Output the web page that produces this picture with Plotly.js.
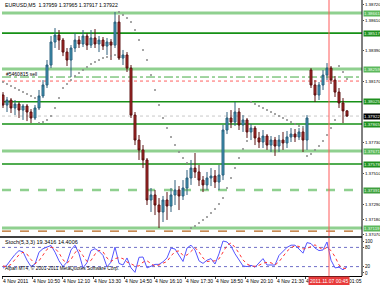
<!DOCTYPE html>
<html><head><meta charset="utf-8">
<script src="https://cdn.plot.ly/plotly-3.0.1.min.js"></script>
<style>html,body{margin:0;padding:0;background:#fff}#c{width:380px;height:285px}</style>
</head><body><div id="c"></div>
<script>
const symbol = 'EURUSD,M5';
const openP  = [1.38073,1.38001,1.38037,1.37980,1.38008,1.37965,1.37994,1.37951,1.37908,1.37980,1.38066,1.38145,1.38288,1.38453,1.38503,1.38467,1.38381,1.38324,1.38410,1.38467,1.38439,1.38496,1.38431,1.38482,1.38439,1.38467,1.38424,1.38453,1.38431,1.38596,1.38338,1.38360,1.38266,1.37929,1.37750,1.37679,1.37607,1.37320,1.37356,1.37284,1.37234,1.37320,1.37277,1.37356,1.37392,1.37349,1.37406,1.37478,1.37549,1.37521,1.37463,1.37428,1.37478,1.37492,1.37449,1.37499,1.37822,1.37908,1.37879,1.37951,1.37858,1.37894,1.37808,1.37836,1.37765,1.37736,1.37779,1.37714,1.37750,1.37707,1.37750,1.37729,1.37772,1.37793,1.37772,1.37808,1.37750,1.38252,1.38145,1.38073,1.38145,1.38216,1.38266,1.38180,1.38094,1.38016,1.37959];
const highP  = [1.38094,1.38059,1.38051,1.38037,1.38023,1.38008,1.38008,1.37972,1.38001,1.38109,1.38180,1.38324,1.38496,1.38553,1.38539,1.38482,1.38410,1.38431,1.38517,1.38496,1.38539,1.38517,1.38539,1.38546,1.38496,1.38489,1.38482,1.38474,1.38668,1.38646,1.38396,1.38381,1.38288,1.37951,1.37786,1.37714,1.37621,1.37406,1.37392,1.37334,1.37349,1.37377,1.37406,1.37463,1.37420,1.37463,1.37535,1.37607,1.37657,1.37571,1.37492,1.37521,1.37549,1.37535,1.37571,1.37858,1.37951,1.37965,1.38023,1.37980,1.37929,1.37908,1.37865,1.37851,1.37808,1.37822,1.37793,1.37779,1.37772,1.37786,1.37808,1.37815,1.37836,1.37829,1.37836,1.37836,1.37929,1.38266,1.38180,1.38166,1.38252,1.38302,1.38281,1.38209,1.38123,1.38051,1.37965];
const lowP   = [1.37980,1.37951,1.37944,1.37929,1.37908,1.37894,1.37886,1.37872,1.37894,1.37965,1.38051,1.38123,1.38266,1.38410,1.38396,1.38352,1.38281,1.38202,1.38381,1.38410,1.38417,1.38396,1.38410,1.38410,1.38381,1.38396,1.38360,1.38324,1.38410,1.38324,1.38288,1.38238,1.37908,1.37714,1.37607,1.37549,1.37284,1.37234,1.37212,1.37119,1.37162,1.37177,1.37234,1.37284,1.37248,1.37320,1.37356,1.37428,1.37478,1.37420,1.37377,1.37392,1.37420,1.37406,1.37392,1.37463,1.37793,1.37836,1.37851,1.37822,1.37808,1.37765,1.37750,1.37714,1.37693,1.37693,1.37679,1.37664,1.37636,1.37664,1.37679,1.37693,1.37736,1.37736,1.37750,1.37664,1.37679,1.38123,1.38023,1.38037,1.38109,1.38180,1.38152,1.38059,1.37980,1.37872,1.37917];
const closeP = [1.38001,1.38037,1.37980,1.38008,1.37965,1.37994,1.37951,1.37908,1.37980,1.38066,1.38145,1.38288,1.38453,1.38503,1.38467,1.38381,1.38324,1.38410,1.38467,1.38439,1.38496,1.38431,1.38482,1.38439,1.38467,1.38424,1.38453,1.38431,1.38596,1.38338,1.38360,1.38266,1.37929,1.37750,1.37679,1.37607,1.37320,1.37356,1.37284,1.37234,1.37320,1.37277,1.37356,1.37392,1.37349,1.37406,1.37478,1.37549,1.37521,1.37463,1.37428,1.37478,1.37492,1.37449,1.37499,1.37822,1.37908,1.37879,1.37951,1.37858,1.37894,1.37808,1.37836,1.37765,1.37736,1.37779,1.37714,1.37750,1.37707,1.37750,1.37729,1.37772,1.37793,1.37772,1.37808,1.37750,1.37908,1.38145,1.38073,1.38145,1.38216,1.38266,1.38180,1.38094,1.38016,1.37959,1.37922];
const sarP   = [1.38166,1.38152,1.38137,1.38123,1.38109,1.38094,1.38080,1.38066,1.38051,1.37872,1.37879,1.37894,1.37922,1.37980,1.38051,1.38123,1.38152,1.38180,1.38209,1.38231,1.38252,1.38274,1.38295,1.38310,1.38324,1.38338,1.38345,1.38352,1.38360,1.38668,1.38646,1.38625,1.38596,1.38539,1.38467,1.38396,1.38324,1.38216,1.38109,1.38001,1.37908,1.37836,1.37772,1.37714,1.37664,1.37621,1.37585,1.37119,1.37134,1.37155,1.37177,1.37198,1.37227,1.37256,1.37291,1.37334,1.37406,1.37478,1.37549,1.37621,1.37686,1.37743,1.38023,1.38008,1.37994,1.37980,1.37965,1.37951,1.37937,1.37922,1.37908,1.37894,1.37879,1.37865,1.37851,1.37843,1.37636,1.37650,1.37679,1.37707,1.37743,1.37786,1.37836,1.37894,1.38281,1.38238,1.38188];
const stochMain   = [15,25,42,58,70,66,40,20,28,65,76,81,86,65,38,20,34,72,87,60,16,32,70,76,68,55,19,34,81,30,25,47,16,2,49,50,16,21,27,27,35,47,78,75,55,36,78,87,72,38,30,40,45,28,60,100,97,84,60,42,22,20,24,18,30,45,25,25,25,55,69,80,87,87,75,62,95,92,78,70,72,97,40,16,18,10,19.3416];
const stochSignal = [22,20,27,42,57,65,59,42,29,38,56,74,81,77,63,41,31,42,64,73,54,36,39,59,71,66,47,36,45,48,45,34,29,22,22,34,38,29,21,25,30,36,53,67,69,55,56,67,79,66,47,36,38,38,44,63,86,94,80,62,41,28,22,21,24,31,33,32,25,35,50,68,79,85,83,75,77,83,88,80,73,80,70,51,25,15,14.4006];
const stochLevels = [80, 20];
const stochTicks = [100, 80, 20, 0];
const priceTicks = [1.38720,1.38610,1.38500,1.38390,1.38280,1.38170,1.38060,1.37950,1.37840,1.37730,1.37620,1.37510,1.37400,1.37290,1.37180,1.37070];
const timeTickIdx = [-0.25,7.25,14.75,22.5,30.25,37.75,45.5,53,60.5,68.25,75.5,86.25];
const timeTickText = ['4 Nov 2011','4 Nov 10:50','4 Nov 12:10','4 Nov 13:30','4 Nov 14:50','4 Nov 16:10','4 Nov 17:30','4 Nov 18:50','4 Nov 20:10','4 Nov 21:30','4 Nov 22:50','01:05'];
const levelsSolid = [1.38517,1.38025,1.37865,1.37578];
const levelsLight = [1.38661,1.38259,1.37671,1.37119];
const levelsLightDash = [1.37391];
const brownLevel = [1.37097];
const orderOpen = [1.38202];
const orderStop = [1.38173];
const orderText = '#5460815 sell';
const vlineIdx = [81.5];
const vlineText = '2011.11.07 00:45';
const copyright = 'Alpari MT4, \u00a9 2001-2011 MetaQuotes Software Corp.';

const idx = closeP.map((_, i) => i);
const F = 'Liberation Sans, Arial, sans-serif';
const X0 = 2/380, X1 = 362/380;
const py = p => 1 - p/285;
const last = closeP.length - 1;
const labelled = levelsSolid.concat(levelsLight, levelsLightDash, [closeP[last]]);
const shownTicks = priceTicks.filter(t => labelled.every(l => Math.abs(l - t) > 0.00045));

const traces = [
  {type:'candlestick', x:idx, open:openP, high:highP, low:lowP, close:closeP, xaxis:'x', yaxis:'y',
   increasing:{line:{color:'#2c5f7c',width:1}, fillcolor:'#3b9bbb'},
   decreasing:{line:{color:'#5a1010',width:1}, fillcolor:'#b52a2a'},
   whiskerwidth:0, hoverinfo:'skip'},
  {type:'scatter', mode:'markers', x:idx, y:sarP, xaxis:'x', yaxis:'y',
   marker:{size:2, color:'#888'}, hoverinfo:'skip'},
  {type:'scatter', mode:'lines', x:idx, y:stochMain, xaxis:'x', yaxis:'y2',
   line:{color:'#5555ff', width:1}, hoverinfo:'skip'},
  {type:'scatter', mode:'lines', x:idx, y:stochSignal, xaxis:'x', yaxis:'y2',
   line:{color:'#ff3333', width:1, dash:'dot'}, hoverinfo:'skip'}
];

const shapes = [];
const hline = (p, color, width, dash) => shapes.push({type:'line', xref:'paper', x0:X0, x1:X1, yref:'y', y0:p, y1:p, line:{color, width, dash}, layer:'below'});
levelsLight.forEach(p => hline(p, '#8fd08f', 3, 'solid'));
levelsLightDash.forEach(p => hline(p, '#8fd08f', 2.5, 'dash'));
levelsSolid.forEach(p => hline(p, '#169016', 1.6, 'solid'));
brownLevel.forEach(p => hline(p, '#b5651d', 1.4, 'dash'));
orderOpen.forEach(p => hline(p, '#44aa44', 1, 'dashdot'));
orderStop.forEach(p => hline(p, '#ff6060', 1, 'dot'));
hline(closeP[last], '#c8c8c8', 1, 'dot');
stochLevels.forEach(v => shapes.push({type:'line', xref:'paper', x0:X0, x1:X1, yref:'y2', y0:v, y1:v, line:{color:'#7070c8', width:1, dash:'dot'}, layer:'below'}));
vlineIdx.forEach(v => shapes.push({type:'line', xref:'x', x0:v, x1:v, yref:'paper', y0:py(276), y1:1, line:{color:'#ff5a5a', width:1}}));
shapes.push({type:'line', xref:'paper', x0:0, x1:X1, yref:'paper', y0:py(237), y1:py(237), line:{color:'#404040', width:2}});
shapes.push({type:'line', xref:'paper', x0:X1, x1:X1, yref:'paper', y0:py(276), y1:1, line:{color:'#000', width:1}});

const annotations = [];
const txt = (x, y, text, size) => annotations.push({xref:'paper', yref:'paper', x:x/380, y:py(y), text, showarrow:false, xanchor:'left', yanchor:'middle', font:{family:F, size:size, color:'#000'}});
txt(3, 5, `${symbol}  ${openP[last].toFixed(5)} ${highP[last].toFixed(5)} ${lowP[last].toFixed(5)} ${closeP[last].toFixed(5)}`, 5.2);
txt(4, 74, orderText, 5);
txt(3, 242, `Stoch(5,3,3) ${stochMain[last].toFixed(4)} ${stochSignal[last].toFixed(4)}`, 5.5);
txt(3, 268, copyright, 4.8);
const plabel = (p, bg, fg) => annotations.push({xref:'paper', yref:'y', x:X1, y:p, xanchor:'left', yanchor:'middle', xshift:1, text:p.toFixed(5), showarrow:false, bgcolor:bg, borderpad:0, font:{family:F, size:4.4, color:fg}});
levelsLight.forEach(p => plabel(p, '#5cb85c', '#eaffea'));
levelsLightDash.forEach(p => plabel(p, '#3f9f3f', '#eaffea'));
levelsSolid.forEach(p => plabel(p, '#1f8f1f', '#eaffea'));
plabel(closeP[last], '#000', '#fff');
vlineIdx.forEach(v => annotations.push({xref:'x', yref:'paper', x:v, y:py(281), xanchor:'center', yanchor:'middle', text:vlineText, showarrow:false, bgcolor:'#e83a3a', borderpad:1, font:{family:F, size:5, color:'#fff'}}));

const layout = {
  width:380, height:285, margin:{l:0,r:0,t:0,b:0}, paper_bgcolor:'#fff', plot_bgcolor:'#fff', showlegend:false,
  xaxis:{domain:[X0,X1], range:[-0.25,89.75], anchor:'y2', tickvals:timeTickIdx, ticktext:timeTickText, tickangle:0,
    ticklabelposition:'outside right', tickfont:{family:F, size:5, color:'#000'}, ticks:'outside', ticklen:2,
    showline:true, linecolor:'#000', showgrid:false, zeroline:false, rangeslider:{visible:false}, fixedrange:true},
  yaxis:{domain:[py(235), py(2)], range:[1.37069,1.38740], side:'right', anchor:'x', tickvals:shownTicks,
    ticktext:shownTicks.map(v => v.toFixed(5)), tickfont:{family:F, size:4.4, color:'#000'}, ticks:'outside', ticklen:1,
    ticklabelstandoff:0, showline:false, showgrid:false, zeroline:false, fixedrange:true},
  yaxis2:{domain:[py(276), py(238)], range:[-9.4,109.4], side:'right', anchor:'x', tickvals:stochTicks,
    ticktext:stochTicks.map(String), tickfont:{family:F, size:4.6, color:'#000'}, ticks:'outside', ticklen:1,
    ticklabelstandoff:0, showline:false, showgrid:false, zeroline:false, fixedrange:true},
  shapes, annotations
};
Plotly.newPlot('c', traces, layout, {staticPlot:true, displayModeBar:false});
</script></body></html>
